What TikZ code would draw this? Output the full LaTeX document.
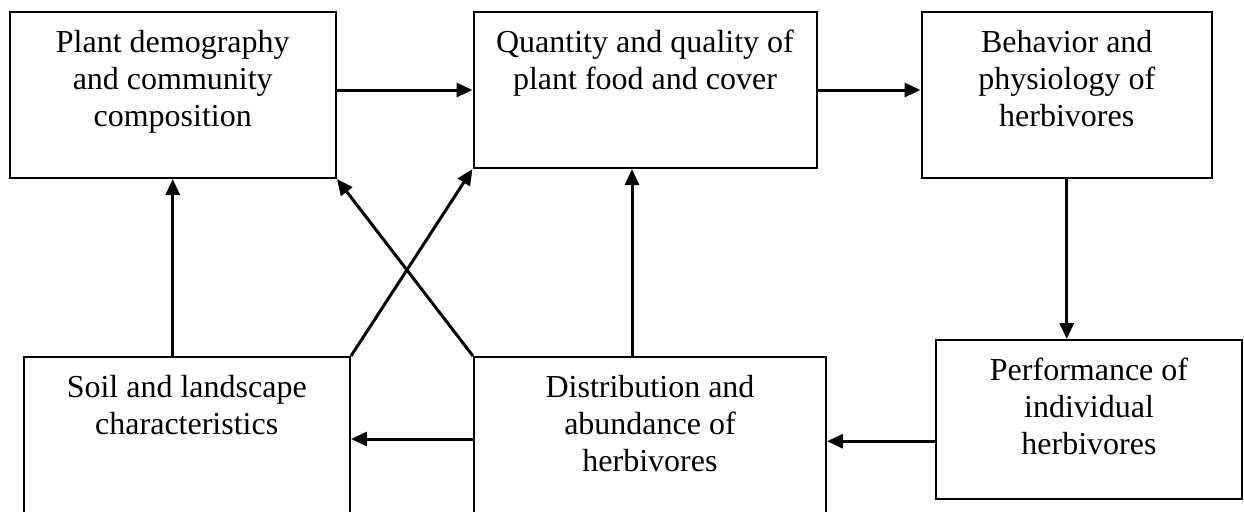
\documentclass[tikz,border=0pt]{standalone}
\usepackage{fontspec}
\setmainfont{Liberation Serif}
\usetikzlibrary{arrows.meta,positioning}
\tikzset{
  >={Triangle[length=8pt,width=7pt]},
  box/.style={draw,line width=1pt,anchor=north west,inner sep=0pt},
  txt/.style={anchor=north,inner sep=0pt,align=center,font=\fontsize{16}{18.5}\selectfont},
  flow/.style={->,line width=1.5pt},
}

\begin{document}
\begin{tikzpicture}[x=0.5pt,y=-0.5pt]
  \useasboundingbox (0,0) rectangle (1244,511);
  \clip (0,0) rectangle (1244,511);
  % boxes
  \node[box,minimum width=163.25pt,minimum height=83pt] (demog) at (8.5,11) {};
  \node[box,minimum width=171.5pt,minimum height=78pt] (quant) at (472.5,11) {};
  \node[box,minimum width=145.25pt,minimum height=83pt] (behav) at (920.5,11) {};
  \node[box,minimum width=163.25pt,minimum height=82pt] (soil) at (22.5,356) {};
  \node[box,minimum width=176pt,minimum height=82pt] (distr) at (473,356) {};
  \node[box,minimum width=153pt,minimum height=79.25pt] (perf) at (935,339) {};
  % texts
  \node[txt] (demogtxt) at ([yshift=-9.2pt]demog.north) {Plant demography\\and community\\composition};
  \node[txt] (quanttxt) at ([yshift=-9.2pt]quant.north) {Quantity and quality of\\plant food and cover};
  \node[txt] (behavtxt) at ([yshift=-9.2pt]behav.north) {Behavior and\\physiology of\\herbivores};
  \node[txt] (soiltxt) at ([yshift=-9.2pt]soil.north) {Soil and landscape\\characteristics};
  \node[txt] (distrtxt) at ([yshift=-9.2pt]distr.north) {Distribution and\\abundance of\\herbivores};
  \node[txt] (perftxt) at ([yshift=-9.2pt]perf.north) {Performance of\\individual\\herbivores};
  % arrows
  \coordinate (qs) at ([xshift=-6.5pt]quant.south);
  \coordinate (fe) at ([yshift=-11pt]perf.west);
  \draw[flow] (demog.east |- quant.west) -- (quant.west);
  \draw[flow] (quant.east) -- (behav.west |- quant.east);
  \draw[flow] (behav.south) -- (behav.south |- perf.north);
  \draw[flow] (fe) -- (distr.east |- fe);
  \draw[flow] (distr.west) -- (soil.east |- distr.west);
  \draw[flow] (demog.south |- soil.north) -- (demog.south);
  \draw[flow] (qs |- distr.north) -- (qs);
  \draw[flow] (soil.north east) -- (quant.south west);
  \draw[flow] (distr.north west) -- (demog.south east);
\end{tikzpicture}
\end{document}
